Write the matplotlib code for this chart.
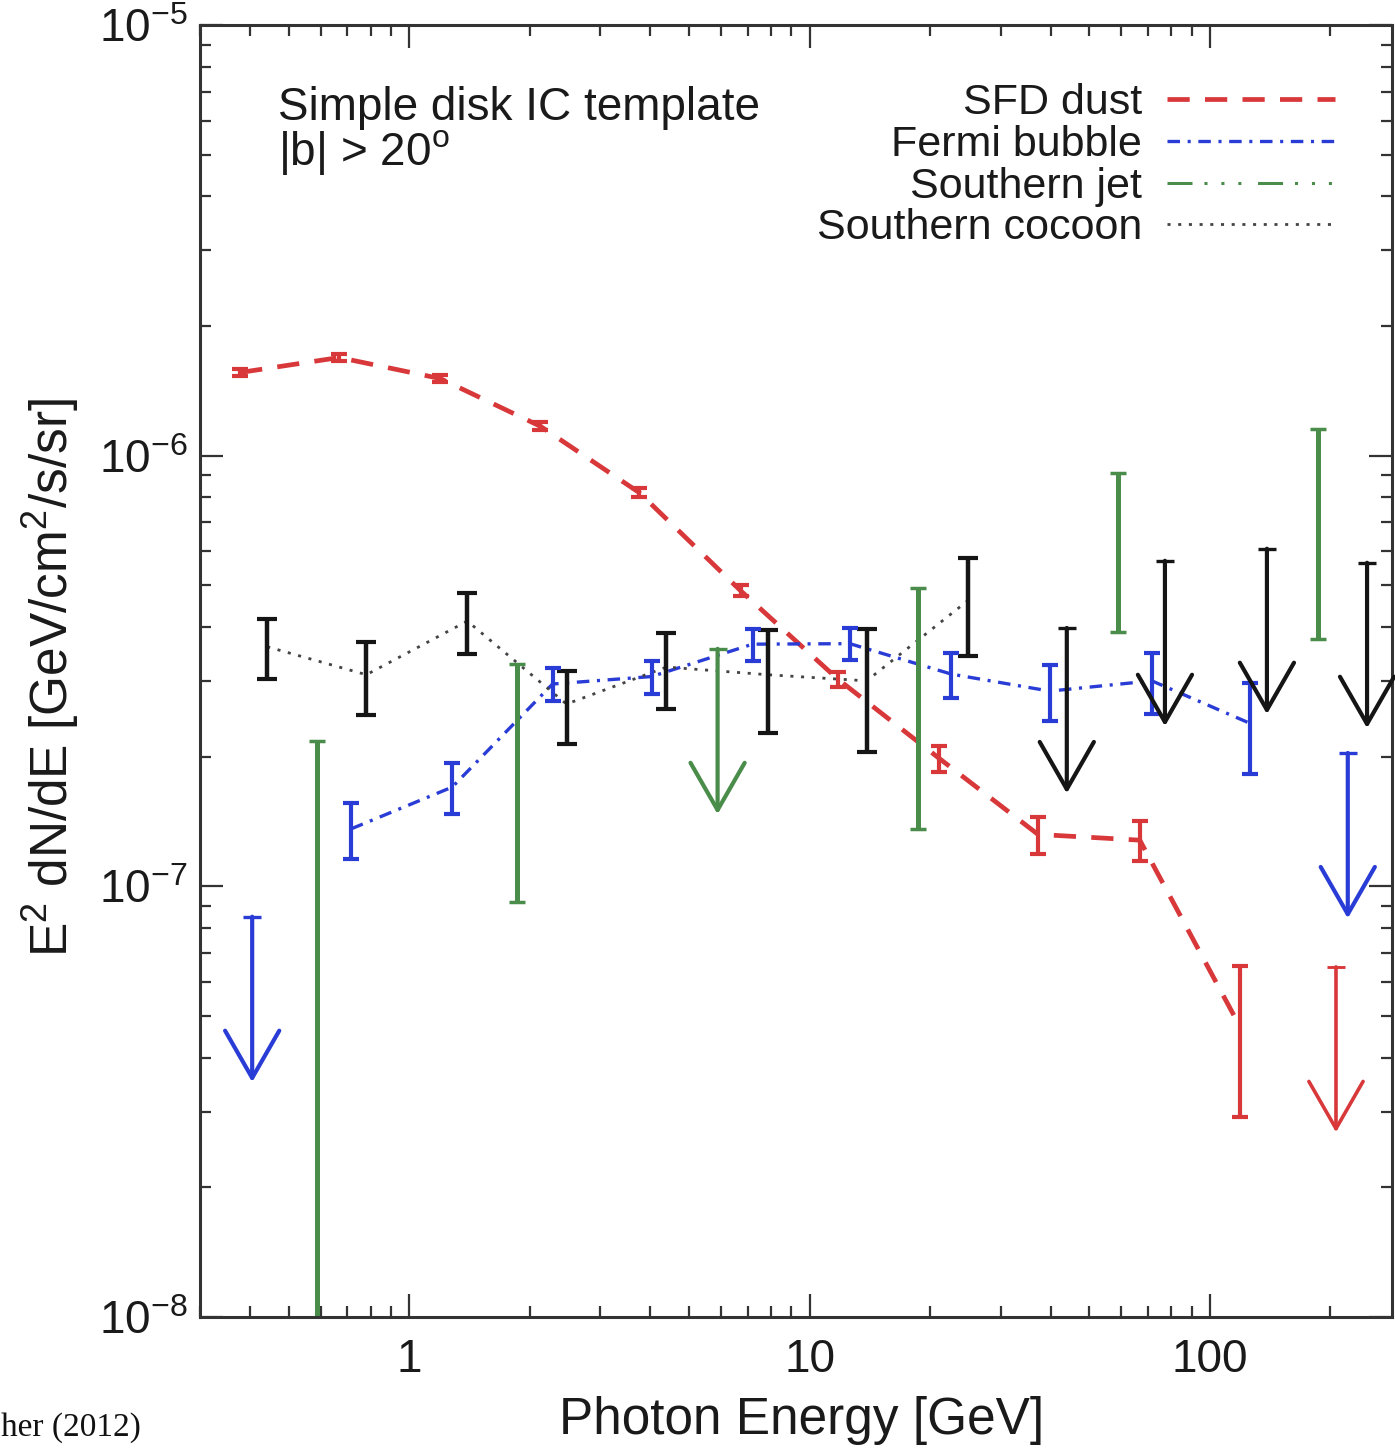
import numpy as np
import matplotlib
matplotlib.use('Agg')
import matplotlib.pyplot as plt
from matplotlib.ticker import LogLocator, NullFormatter, FixedLocator, FixedFormatter

plt.rcParams['font.family'] = ['Liberation Sans', 'DejaVu Sans']
plt.rcParams['mathtext.fontset'] = 'custom'
plt.rcParams['mathtext.rm'] = 'Liberation Sans'
plt.rcParams['mathtext.it'] = 'Liberation Sans:italic'
plt.rcParams['mathtext.bf'] = 'Liberation Sans:bold'
plt.rcParams['mathtext.default'] = 'regular'
plt.rcParams['lines.scale_dashes'] = False

# ---------------- data ----------------
# SFD dust (red)
sfd_E = [0.378, 0.668, 1.195, 2.126, 3.758, 6.72, 11.75, 21.1, 37.2, 66.8, 118.9]
sfd_F = [1.56e-6, 1.69e-6, 1.51e-6, 1.17e-6, 8.2e-7, 4.86e-7, 3.03e-7, 1.98e-7, 1.32e-7, 1.28e-7, 4.72e-8]
sfd_err = [3e-8, 3e-8, 3e-8, 2.5e-8, 2e-8, 1.5e-8, 1.2e-8, 1.35e-8, 1.3e-8, 1.37e-8, 1.8e-8]
sfd_ul_E = [206.5]
sfd_ul_F = [6.5e-8]

# Fermi bubble (blue)
fb_E = [0.716, 1.28, 2.28, 4.03, 7.20, 12.6, 22.6, 39.8, 71.6, 126.0]
fb_F = [1.36e-7, 1.70e-7, 2.95e-7, 3.07e-7, 3.65e-7, 3.66e-7, 3.11e-7, 2.84e-7, 3.0e-7, 2.39e-7]
fb_err = [2.0e-8, 2.3e-8, 2.6e-8, 2.7e-8, 3.1e-8, 3.1e-8, 3.7e-8, 4.2e-8, 4.9e-8, 5.7e-8]
fb_ul_E = [0.405, 221.0]
fb_ul_F = [8.5e-8, 2.04e-7]

# Southern jet (green)
jet_E = [0.589, 1.86, 18.6, 58.9, 186.0]
jet_F = [1.1e-7, 2.1e-7, 3.15e-7, 6.5e-7, 7.65e-7]
jet_err = [1.08e-7, 1.18e-7, 1.79e-7, 2.6e-7, 3.9e-7]
jet_ul_E = [5.89]
jet_ul_F = [3.56e-7]

# Southern cocoon (black)
coc_E = [0.4416, 0.781, 1.396, 2.47, 4.39, 7.85, 13.88, 24.8]
coc_F = [3.6e-7, 3.1e-7, 4.13e-7, 2.65e-7, 3.23e-7, 3.1e-7, 3.0e-7, 4.6e-7]
coc_err = [5.7e-8, 6.0e-8, 6.7e-8, 5.1e-8, 6.5e-8, 8.3e-8, 9.5e-8, 1.18e-7]
coc_ul_E = [43.9, 77.2, 138.8, 246.9]
coc_ul_F = [3.98e-7, 5.70e-7, 6.08e-7, 5.64e-7]

labels = ['SFD dust', 'Fermi bubble', 'Southern jet', 'Southern cocoon']
x_ticks = [1, 10, 100]
x_ticklabels = ['1', '10', '100']

# ---------------- style ----------------
RED = '#d8383a'
BLUE = '#2a3cd6'
GREEN = '#4a8c4a'
BLACK = '#151515'
AXC = '#333333'

ls_red = (0, (16, 11))
ls_blue = (0, (9, 5.5, 2.2, 5.5))
ls_green = (0, (18, 8.6, 2.2, 10, 2.2, 10, 2.2, 12))
ls_black = (0, (2.2, 5.5))

ARROW_DEX = 0.384  # drawn arrow length in decades

fig = plt.figure(figsize=(13.95, 14.53), dpi=100)
ax = fig.add_axes([200/1395, 136/1453, 1192/1395, 1292/1453])
ax.set_xscale('log')
ax.set_yscale('log')
ax.set_xlim(0.3, 285)
ax.set_ylim(1e-8, 1e-5)


def upper_limits(E, F, color, lw):
    for e, f in zip(E, F):
        ax.annotate('', xy=(e, f / 10**ARROW_DEX), xytext=(e, f),
                    arrowprops=dict(arrowstyle='->,head_length=3.4,head_width=1.95',
                                    mutation_scale=10, lw=lw, color=color,
                                    shrinkA=0, shrinkB=0))
    ax.plot(E, F, ls='none', marker='_', ms=13, mew=lw * 0.8, color=color)


# connecting lines
h_red, = ax.plot(sfd_E, sfd_F, ls=ls_red, color=RED, lw=3.4, label=labels[0])
h_blue, = ax.plot(fb_E, fb_F, ls=ls_blue, color=BLUE, lw=2.4, label=labels[1])
h_green, = ax.plot([], [], ls=ls_green, color=GREEN, lw=2.2, label=labels[2])
h_black, = ax.plot(coc_E, coc_F, ls=ls_black, color='#444444', lw=2.0, label=labels[3])

# error bars
ax.errorbar(coc_E, coc_F, yerr=coc_err, fmt='none', ecolor=BLACK, elinewidth=3.2,
            capsize=7, capthick=3.0)
ax.errorbar(jet_E, jet_F, yerr=jet_err, fmt='none', ecolor=GREEN, elinewidth=3.6,
            capsize=6, capthick=2.5)
ax.errorbar(fb_E, fb_F, yerr=fb_err, fmt='none', ecolor=BLUE, elinewidth=3.0,
            capsize=6, capthick=3.0)
ax.errorbar(sfd_E, sfd_F, yerr=sfd_err, fmt='none', ecolor=RED, elinewidth=3.0,
            capsize=6, capthick=3.0)

# upper limits
upper_limits(coc_ul_E, coc_ul_F, BLACK, 3.0)
upper_limits(jet_ul_E, jet_ul_F, GREEN, 3.0)
upper_limits(fb_ul_E, fb_ul_F, BLUE, 3.0)
upper_limits(sfd_ul_E, sfd_ul_F, RED, 2.6)

# axes styling
for sp in ax.spines.values():
    sp.set_linewidth(2.2)
    sp.set_color(AXC)
ax.xaxis.set_major_locator(FixedLocator(x_ticks))
ax.xaxis.set_major_formatter(FixedFormatter(x_ticklabels))
ax.xaxis.set_minor_locator(LogLocator(base=10, subs=np.arange(2, 10), numticks=20))
ax.xaxis.set_minor_formatter(NullFormatter())
ax.yaxis.set_major_locator(LogLocator(base=10, numticks=10))
ax.yaxis.set_minor_locator(LogLocator(base=10, subs=np.arange(2, 10), numticks=20))
ax.yaxis.set_minor_formatter(NullFormatter())
ax.tick_params(which='both', direction='in', top=True, right=True, color=AXC,
               width=1.6, labelcolor='#1a1a1a')
ax.tick_params(which='major', length=16.5, labelsize=33)
ax.tick_params(which='minor', length=8)
ax.tick_params(axis='x', which='major', pad=15)
ax.tick_params(axis='y', which='major', pad=9)

ax.set_xlabel('Photon Energy [GeV]', fontsize=37, color='#1a1a1a')
ax.xaxis.set_label_coords(0.505, -0.061)
ax.set_ylabel('E$^2$ dN/dE [GeV/cm$^2$/s/sr]', fontsize=37, color='#1a1a1a')
ax.yaxis.set_label_coords(-0.0998, 0.4946)

ax.text(0.0654, 0.9265, 'Simple disk IC template', transform=ax.transAxes,
        fontsize=33, color='#1a1a1a', ha='left', va='baseline')
ax.text(0.0654, 0.8916, '|b| > 20$^{o}$', transform=ax.transAxes,
        fontsize=33, color='#1a1a1a', ha='left', va='baseline')

leg = ax.legend(handles=[h_red, h_blue, h_green, h_black], loc='upper right',
                bbox_to_anchor=(0.952, 0.955), frameon=False, markerfirst=False,
                fontsize=31, handlelength=3.9, handletextpad=0.58,
                labelspacing=0.04, borderpad=0, borderaxespad=0)
for t in leg.get_texts():
    t.set_color('#1a1a1a')

fig.text(1/1395, 1 - 1436/1453, 'her (2012)', ha='left', va='baseline',
         fontsize=24, family=['Liberation Serif', 'DejaVu Serif'], color='#111111')

fig.savefig('out.png', dpi=100, facecolor='white')
